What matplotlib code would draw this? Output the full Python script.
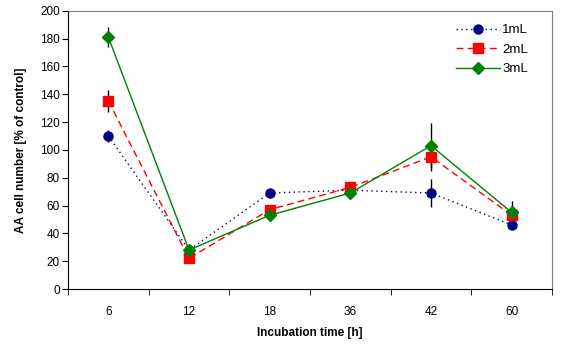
import matplotlib
matplotlib.use("Agg")
import matplotlib.pyplot as plt
import numpy as np

plt.rcParams['font.family'] = ['Liberation Sans', 'DejaVu Sans']

categories = ["6", "12", "18", "36", "42", "60"]
s1 = [110, 28, 69, 71, 69, 46]
s2 = [135, 22, 57, 73, 95, 53]
s3 = [181, 28, 53, 69, 103, 55]
e1 = [4, 0, 0, 0, 10, 0]
e2 = [8, 0, 0, 0, 10, 0]
e3 = [7, 0, 0, 0, 16, 8]
labels = ["1mL", "2mL", "3mL"]
yticks = [0, 20, 40, 60, 80, 100, 120, 140, 160, 180, 200]

fig = plt.figure(figsize=(5.65, 3.45), dpi=100)
ax = fig.add_axes([0.1204, 0.1623, 0.977 - 0.1204, 0.969 - 0.1623])
x = np.arange(len(categories))

styles = [
    dict(color="#000080", ls=(0, (1, 2.5)), marker="o", ms=6.5),
    dict(color="#FF0000", ls=(0, (5, 3)), marker="s", ms=7),
    dict(color="#008000", ls="-", marker="D", ms=6),
]
for vals, errs in zip([s1, s2, s3], [e1, e2, e3]):
    ax.errorbar(x, vals, yerr=errs, fmt="none", ecolor="black", elinewidth=1, capsize=0, zorder=2)
for vals, lab, st in zip([s1, s2, s3], labels, styles):
    ax.plot(x, vals, color=st["color"], linestyle=st["ls"], lw=1,
            marker=st["marker"], ms=st["ms"], mfc=st["color"], mec=st["color"],
            label=lab, zorder=3)

ax.set_xlim(-0.5, len(categories) - 0.5)
ax.set_ylim(0, 200)
ax.set_yticks(yticks)
ax.set_xticks(x)
ax.set_xticklabels(categories)
ax.set_xticks(np.arange(-0.5, len(categories)), minor=True)
ax.tick_params(axis="x", which="major", length=0, pad=12, labelsize=8.5)
ax.tick_params(axis="x", which="minor", length=4, direction="out")
ax.tick_params(axis="y", length=4, direction="out", labelsize=8.5, pad=2)
for s in ["top", "right"]:
    ax.spines[s].set_color("#808080")
for s in ["left", "bottom"]:
    ax.spines[s].set_color("black")

ax.set_xlabel("Incubation time [h]", fontsize=8.5, fontweight="bold", labelpad=7)
ax.set_ylabel("AA cell number [% of control]", fontsize=8.5, fontweight="bold", labelpad=9)

ax.legend(loc="upper right", frameon=False, fontsize=9.5, handlelength=3.3, numpoints=1,
          bbox_to_anchor=(0.975, 0.995), labelspacing=0.55, handletextpad=0.2)

fig.savefig("out.png", dpi=100)
